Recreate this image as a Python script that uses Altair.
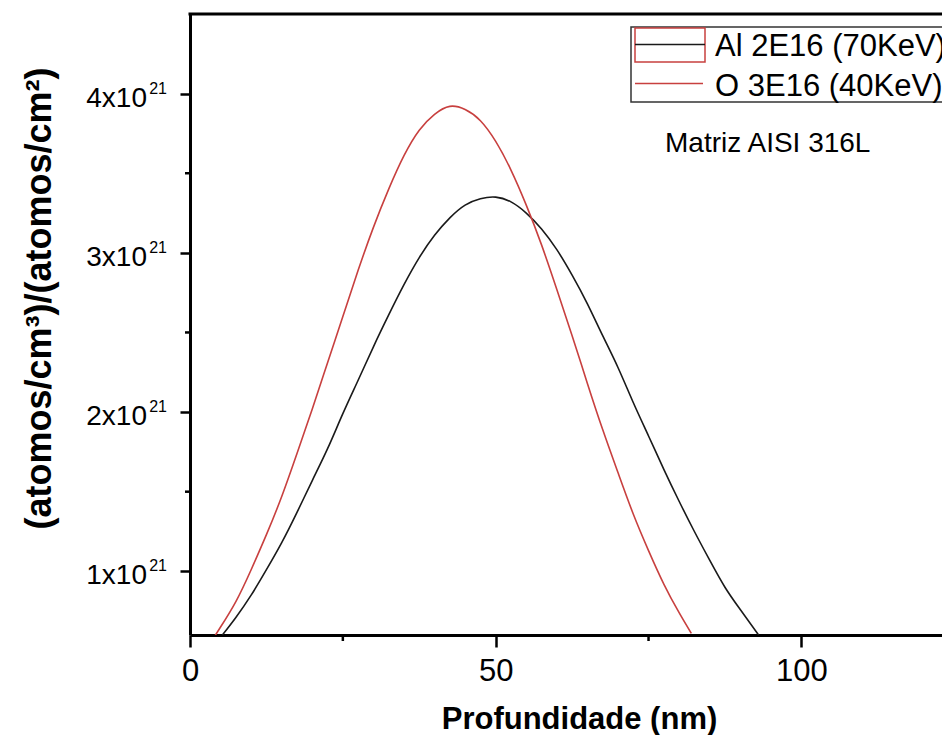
import altair as alt
import pandas as pd

# Depth (nm) and concentration in units of 1x10^21 (atomos/cm3)/(atomos/cm2)
al_depth = [5.3, 7.5, 10, 12.5, 15, 17.5, 20, 22.5, 25, 27.5, 30, 32.5, 35, 37.5, 40, 42.5,
            45, 47.5, 50, 52.5, 55, 57.5, 60, 62.5, 65, 67.5, 70, 72.5, 75, 77.5, 80, 82.5,
            85, 87.5, 90, 93]
al_conc = [0.60, 0.71, 0.85, 1.01, 1.18, 1.37, 1.57, 1.77, 1.99, 2.20, 2.41, 2.61, 2.80, 2.97,
           3.11, 3.22, 3.30, 3.34, 3.35, 3.32, 3.25, 3.15, 3.02, 2.86, 2.68, 2.48, 2.28, 2.06,
           1.85, 1.64, 1.44, 1.25, 1.07, 0.90, 0.76, 0.60]

o_depth = [4, 5, 7.5, 10, 12.5, 15, 17.5, 20, 22.5, 25, 27.5, 30, 32.5, 35, 37.5, 40, 42.5,
           45, 47.5, 50, 52.5, 55, 57.5, 60, 62.5, 65, 67.5, 70, 72.5, 75, 77.5, 80, 82]
o_conc = [0.59, 0.65, 0.81, 1.01, 1.23, 1.47, 1.74, 2.02, 2.31, 2.60, 2.89, 3.16, 3.40, 3.61,
          3.77, 3.87, 3.92, 3.90, 3.83, 3.70, 3.52, 3.30, 3.05, 2.77, 2.48, 2.18, 1.89, 1.62,
          1.36, 1.13, 0.92, 0.74, 0.61]

series_names = ["Al 2E16 (70KeV)", "O 3E16 (40KeV)"]
series_colors = ["#1a1a1a", "#c8403f"]

x_major = [0, 50, 100]
x_minor = [25, 75]
y_major = [1, 2, 3, 4]
y_minor = [1.5, 2.5, 3.5]
y_label_base = ["1x10", "2x10", "3x10", "4x10"]
y_label_exp = ["21", "21", "21", "21"]

x_title = "Profundidade (nm)"
y_title = "(atomos/cm³)/(atomos/cm²)"
note_text = "Matriz AISI 316L"

W, H = 752, 621
SANS = "Liberation Sans"

df = pd.concat([
    pd.DataFrame({"depth": al_depth, "conc": al_conc, "serie": series_names[0]}),
    pd.DataFrame({"depth": o_depth, "conc": o_conc, "serie": series_names[1]}),
])

xscale = alt.Scale(domain=[0, 123], nice=False, zero=False)
yscale = alt.Scale(domain=[0.6, 4.5], nice=False, zero=False)

xaxis = alt.Axis(
    values=x_major, title=x_title, grid=False, labelFlush=False, labelOverlap=False,
    labelFont=SANS, labelFontSize=31, labelColor="black", labelBaseline="alphabetic",
    labelPadding=33, tickSize=12, tickWidth=2.5, tickColor="black",
    domainWidth=3, domainColor="black",
    titleFont=SANS, titleFontSize=31, titleFontWeight="bold", titleColor="black",
    titleX=389, titleY=93, titleBaseline="alphabetic",
)
yaxis = alt.Axis(
    values=y_major, labels=False, title=y_title, grid=False,
    tickSize=10, tickWidth=2.5, tickColor="black",
    domainWidth=3, domainColor="black",
    titleFont=SANS, titleFontSize=36, titleFontWeight="bold", titleColor="black",
    titleX=-140, titleY=284, titleBaseline="alphabetic",
)

X = alt.X("depth:Q", scale=xscale, axis=xaxis)
Y = alt.Y("conc:Q", scale=yscale, axis=yaxis)

lines = alt.Chart(df).mark_line(strokeWidth=1.6, interpolate="natural", clip=True).encode(
    x=X, y=Y,
    color=alt.Color("serie:N", scale=alt.Scale(domain=series_names, range=series_colors), legend=None),
    detail="serie:N",
)

xmin = alt.Chart(pd.DataFrame({"depth": x_minor})).mark_rule(color="black", strokeWidth=2.5).encode(
    x=X, y=alt.value(H), y2=alt.value(H + 6)
)
ymin = alt.Chart(pd.DataFrame({"conc": y_minor})).mark_rule(color="black", strokeWidth=2.5).encode(
    y=Y, x=alt.value(0), x2=alt.value(-5)
)

ylab_df = pd.DataFrame({"conc": y_major, "base": y_label_base, "exp": y_label_exp})
ylab_base = alt.Chart(ylab_df).mark_text(font=SANS, fontSize=28, align="right", baseline="alphabetic",
                                         color="black", dy=13).encode(
    y=Y, x=alt.value(-43), text="base:N"
)
ylab_exp = alt.Chart(ylab_df).mark_text(font=SANS, fontSize=16, align="right", baseline="alphabetic",
                                        color="black", dy=0).encode(
    y=Y, x=alt.value(-23), text="exp:N"
)

one = pd.DataFrame({"a": [0]})
top = alt.Chart(one).mark_rule(color="black", strokeWidth=3).encode(
    x=alt.value(-1.5), x2=alt.value(W + 20), y=alt.value(0)
)
box = alt.Chart(one).mark_rect(fill="white", stroke="#333333", strokeWidth=1.5).encode(
    x=alt.value(441), x2=alt.value(W + 30), y=alt.value(13), y2=alt.value(88)
)
al_sym = alt.Chart(one).mark_rect(fillOpacity=0, stroke=series_colors[1], strokeWidth=1.5).encode(
    x=alt.value(445), x2=alt.value(515), y=alt.value(14), y2=alt.value(48)
)
al_line = alt.Chart(one).mark_rule(color=series_colors[0], strokeWidth=1.5).encode(
    x=alt.value(445), x2=alt.value(515), y=alt.value(30.5)
)
o_line = alt.Chart(one).mark_rule(color=series_colors[1], strokeWidth=1.5).encode(
    x=alt.value(445), x2=alt.value(513), y=alt.value(69.5)
)
al_txt = alt.Chart(one).mark_text(font=SANS, fontSize=31, align="left", baseline="alphabetic", color="black").encode(
    x=alt.value(525), y=alt.value(41.5), text=alt.value(series_names[0])
)
o_txt = alt.Chart(one).mark_text(font=SANS, fontSize=31, align="left", baseline="alphabetic", color="black").encode(
    x=alt.value(525), y=alt.value(81.5), text=alt.value(series_names[1])
)
note = alt.Chart(one).mark_text(font=SANS, fontSize=28, align="left", baseline="alphabetic", color="black").encode(
    x=alt.value(475), y=alt.value(138), text=alt.value(note_text)
)

chart = alt.layer(lines, xmin, ymin, ylab_base, ylab_exp, top, box, al_sym, al_line, o_line,
                  al_txt, o_txt, note).properties(
    width=W, height=H,
    padding={"left": 190, "top": 14, "right": 0, "bottom": 100},
    autosize=alt.AutoSizeParams(type="none"),
    background="white",
).configure_view(stroke=None)

chart.save("out.html", embed_options={"renderer": "svg", "actions": False})
